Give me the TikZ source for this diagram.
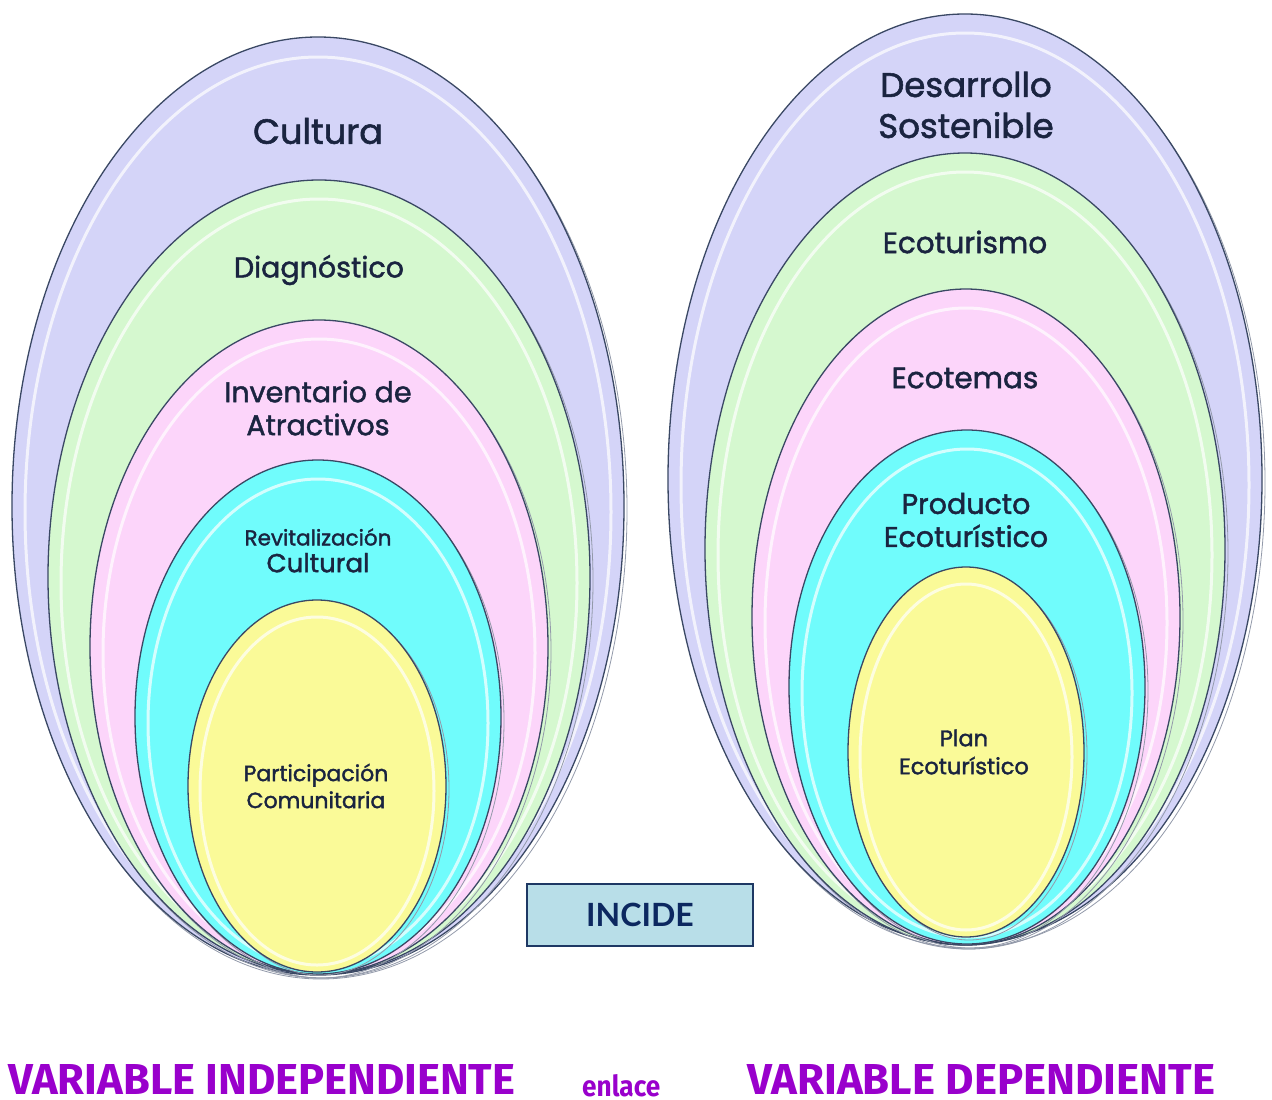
\documentclass[tikz,border=0pt]{standalone}
\usepackage{fontspec}
\setmainfont{Poppins}[FakeBold=1.6]
\newfontfamily\cajafont{Lato}
\newfontfamily\varfont{Fira Sans}
\usetikzlibrary{positioning}
\definecolor{lila}{RGB}{212,212,248}
\definecolor{verde}{RGB}{213,248,207}
\definecolor{rosa}{RGB}{252,213,250}
\definecolor{celeste}{RGB}{112,252,252}
\definecolor{amarillo}{RGB}{250,250,152}
\definecolor{borde}{RGB}{58,72,100}
\definecolor{tinta}{RGB}{26,36,64}
\definecolor{morado}{RGB}{153,0,204}
\definecolor{cajafondo}{RGB}{184,222,232}
\definecolor{cajaborde}{RGB}{30,56,100}
\definecolor{cajatinta}{RGB}{12,40,96}
\tikzset{
  capa/.style={draw=borde, line width=1.3pt},
  brillo/.style={draw=white, line width=3pt, opacity=0.7},
  sombra/.style={draw=borde!55, line width=0.8pt},
  etiqueta/.style={text=tinta, align=center, inner sep=0pt},
  rotulo/.style={text=morado, inner sep=0pt},
}
\begin{document}
\begin{tikzpicture}[x=1pt, y=-1pt]
	\useasboundingbox (0,0) rectangle (1272,1100);
	\fill[white] (0,0) rectangle (1272,1100);

	\draw[sombra] (321,510) ellipse [x radius=306pt, y radius=469pt];
	\draw[capa, fill=lila] (318,506) ellipse [x radius=306pt, y radius=469pt];
	\draw[brillo] (318,512) ellipse [x radius=293pt, y radius=455pt];
	\draw[sombra] (322,581) ellipse [x radius=271pt, y radius=397pt];
	\draw[capa, fill=verde] (319,577) ellipse [x radius=271pt, y radius=397pt];
	\draw[brillo] (319,583) ellipse [x radius=258pt, y radius=384pt];
	\draw[sombra] (322,651) ellipse [x radius=229pt, y radius=327pt];
	\draw[capa, fill=rosa] (319,647) ellipse [x radius=229pt, y radius=327pt];
	\draw[brillo] (319,653) ellipse [x radius=216pt, y radius=314pt];
	\draw[sombra] (321,721) ellipse [x radius=183pt, y radius=257pt];
	\draw[capa, fill=celeste] (318,717) ellipse [x radius=183pt, y radius=257pt];
	\draw[brillo] (318,723) ellipse [x radius=170pt, y radius=244pt];
	\draw[sombra] (320,789) ellipse [x radius=129pt, y radius=186pt];
	\draw[capa, fill=amarillo] (317,786) ellipse [x radius=129pt, y radius=186pt];
	\draw[brillo] (317,791) ellipse [x radius=117pt, y radius=174pt];

	\draw[sombra] (968,483) ellipse [x radius=297pt, y radius=465pt];
	\draw[capa, fill=lila] (965,479) ellipse [x radius=297pt, y radius=465pt];
	\draw[brillo] (965,485) ellipse [x radius=284pt, y radius=452pt];
	\draw[sombra] (968,553) ellipse [x radius=260pt, y radius=396pt];
	\draw[capa, fill=verde] (965,549) ellipse [x radius=260pt, y radius=396pt];
	\draw[brillo] (965,555) ellipse [x radius=247pt, y radius=383pt];
	\draw[sombra] (969,621) ellipse [x radius=214pt, y radius=328pt];
	\draw[capa, fill=rosa] (966,617) ellipse [x radius=214pt, y radius=328pt];
	\draw[brillo] (966,623) ellipse [x radius=201pt, y radius=315pt];
	\draw[sombra] (970,691) ellipse [x radius=178pt, y radius=257pt];
	\draw[capa, fill=celeste] (967,687) ellipse [x radius=178pt, y radius=257pt];
	\draw[brillo] (967,693) ellipse [x radius=165pt, y radius=244pt];
	\draw[sombra] (969,755) ellipse [x radius=118pt, y radius=185pt];
	\draw[capa, fill=amarillo] (966,752) ellipse [x radius=118pt, y radius=185pt];
	\draw[brillo] (966,757) ellipse [x radius=106pt, y radius=173pt];

	\node[etiqueta, font=\fontsize{35}{40}\selectfont] (cultura) at (318,131) {Cultura};
	\node[etiqueta, font=\fontsize{28.5}{33}\selectfont] (diagnostico) at (319,270) {Diagnóstico};
	\node[etiqueta, font=\fontsize{28.5}{33}\selectfont] (inventario) at (318,408) {Inventario de\\Atractivos};
	\node[etiqueta, font=\fontsize{21.5}{26}\selectfont] (revitalizacion) at (318,537) {Revitalización};
	\node[etiqueta, font=\fontsize{26}{30}\selectfont, below=7pt of revitalizacion] (cultural) {Cultural};
	\node[etiqueta, font=\fontsize{22}{27}\selectfont] (participacion) at (316,786) {Participación\\Comunitaria};

	\node[etiqueta, font=\fontsize{34}{41}\selectfont] (desarrollo) at (966,105) {Desarrollo\\Sostenible};
	\node[etiqueta, font=\fontsize{29.5}{34}\selectfont] (ecoturismo) at (965,242) {Ecoturismo};
	\node[etiqueta, font=\fontsize{29.5}{34}\selectfont] (ecotemas) at (965,378) {Ecotemas};
	\node[etiqueta, font=\fontsize{28.5}{33}\selectfont] (producto) at (966,520) {Producto\\Ecoturístico};
	\node[etiqueta, font=\fontsize{22.5}{28}\selectfont] (plan) at (964,752) {Plan\\Ecoturístico};

	\node[draw=cajaborde, fill=cajafondo, line width=1.5pt, minimum width=226pt, minimum height=62pt, text=cajatinta, font=\cajafont\bfseries\fontsize{32}{32}\selectfont] (incide) at (640,915) {INCIDE};

	\node[rotulo, anchor=south west] (independiente) at (8,1095) {\resizebox{507pt}{30pt}{\varfont\bfseries VARIABLE INDEPENDIENTE}};
	\node[rotulo, anchor=south west] (enlace) at (582,1097) {\resizebox{78pt}{22pt}{\varfont\bfseries enlace}};
	\node[rotulo, anchor=south west] (dependiente) at (747,1095) {\resizebox{468pt}{30pt}{\varfont\bfseries VARIABLE DEPENDIENTE}};
\end{tikzpicture}
\end{document}
